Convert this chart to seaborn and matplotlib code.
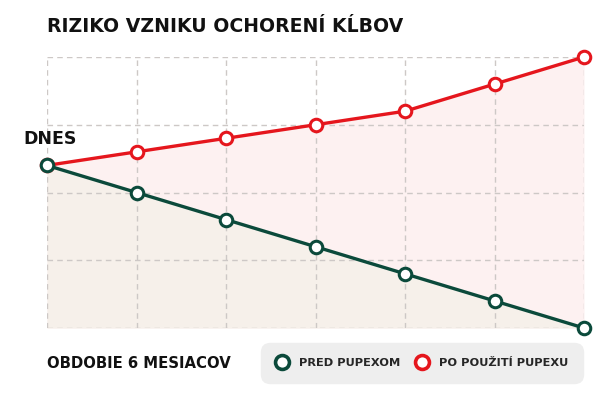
import pandas as pd
import matplotlib.pyplot as plt
import seaborn as sns
from matplotlib.lines import Line2D

# the data
months = [0, 1, 2, 3, 4, 5, 6]
risk_red = [60, 65, 70, 75, 80, 90, 100]
risk_green = [60, 50, 40, 30, 20, 10, 0]
labels = ["PRED PUPEXOM", "PO POUŽITÍ PUPEXU"]

red = "#e5161d"
green = "#0b4a3b"

sns.set_theme(style="white")
plt.rcParams["font.family"] = ["DejaVu Sans"]

df = pd.DataFrame({"month": months, "red": risk_red, "green": risk_green})

fig = plt.figure(figsize=(6, 3.96), dpi=100)
ax = fig.add_axes([47 / 600, 1 - 328 / 396, 537 / 600, 271 / 396])

# fills under the lines
ax.fill_between(df["month"], df["red"], 0, color="#fdf1f1", lw=0, zorder=0)
ax.fill_between(df["month"], df["green"], 0, color="#f6f0ea", lw=0, zorder=0)

for col, c in [("red", red), ("green", green)]:
    sns.lineplot(data=df, x="month", y=col, ax=ax, color=c, lw=2.4,
                 marker="o", markersize=9, markerfacecolor="white",
                 markeredgecolor=c, markeredgewidth=2.2, clip_on=False, zorder=3)

ax.set_xlim(0, 6)
ax.set_ylim(0, 100)
ax.set_xticks(months)
ax.set_yticks([0, 25, 50, 75, 100])
ax.grid(True, color="#cdc8c6", ls=(0, (4, 3)), lw=1)
ax.set_axisbelow(True)
ax.tick_params(labelbottom=False, labelleft=False, length=0)
for s in ax.spines.values():
    s.set_visible(False)
ax.set_xlabel("")
ax.set_ylabel("")

fig.text(47 / 600, 1 - 27 / 396, "RIZIKO VZNIKU OCHORENÍ KĹBOV", fontsize=13.6,
         fontweight="bold", color="#111111", va="center", ha="left")
fig.text(23 / 600, 1 - 139 / 396, "DNES", fontsize=12.5, fontweight="bold",
         color="#111111", va="center", ha="left")
fig.text(47 / 600, 1 - 363 / 396, "OBDOBIE 6 MESIACOV", fontsize=10.7,
         fontweight="bold", color="#111111", va="center", ha="left")

handles = [Line2D([], [], ls="", marker="o", markersize=10, markerfacecolor="white",
                  markeredgecolor=c, markeredgewidth=2.6) for c in [green, red]]
leg = fig.legend(handles, labels, ncol=2, loc="center", bbox_to_anchor=(422 / 600, 1 - 363 / 396),
                 frameon=True, fancybox=True, facecolor="#eeeeee", edgecolor="#eeeeee",
                 framealpha=1, handletextpad=1.0, columnspacing=1.4, borderpad=1.15,
                 prop={"weight": "bold", "size": 8.2}, handlelength=1.0)
leg.get_frame().set_boxstyle("round,pad=0.2,rounding_size=0.8")

fig.savefig("out.png", dpi=100)
